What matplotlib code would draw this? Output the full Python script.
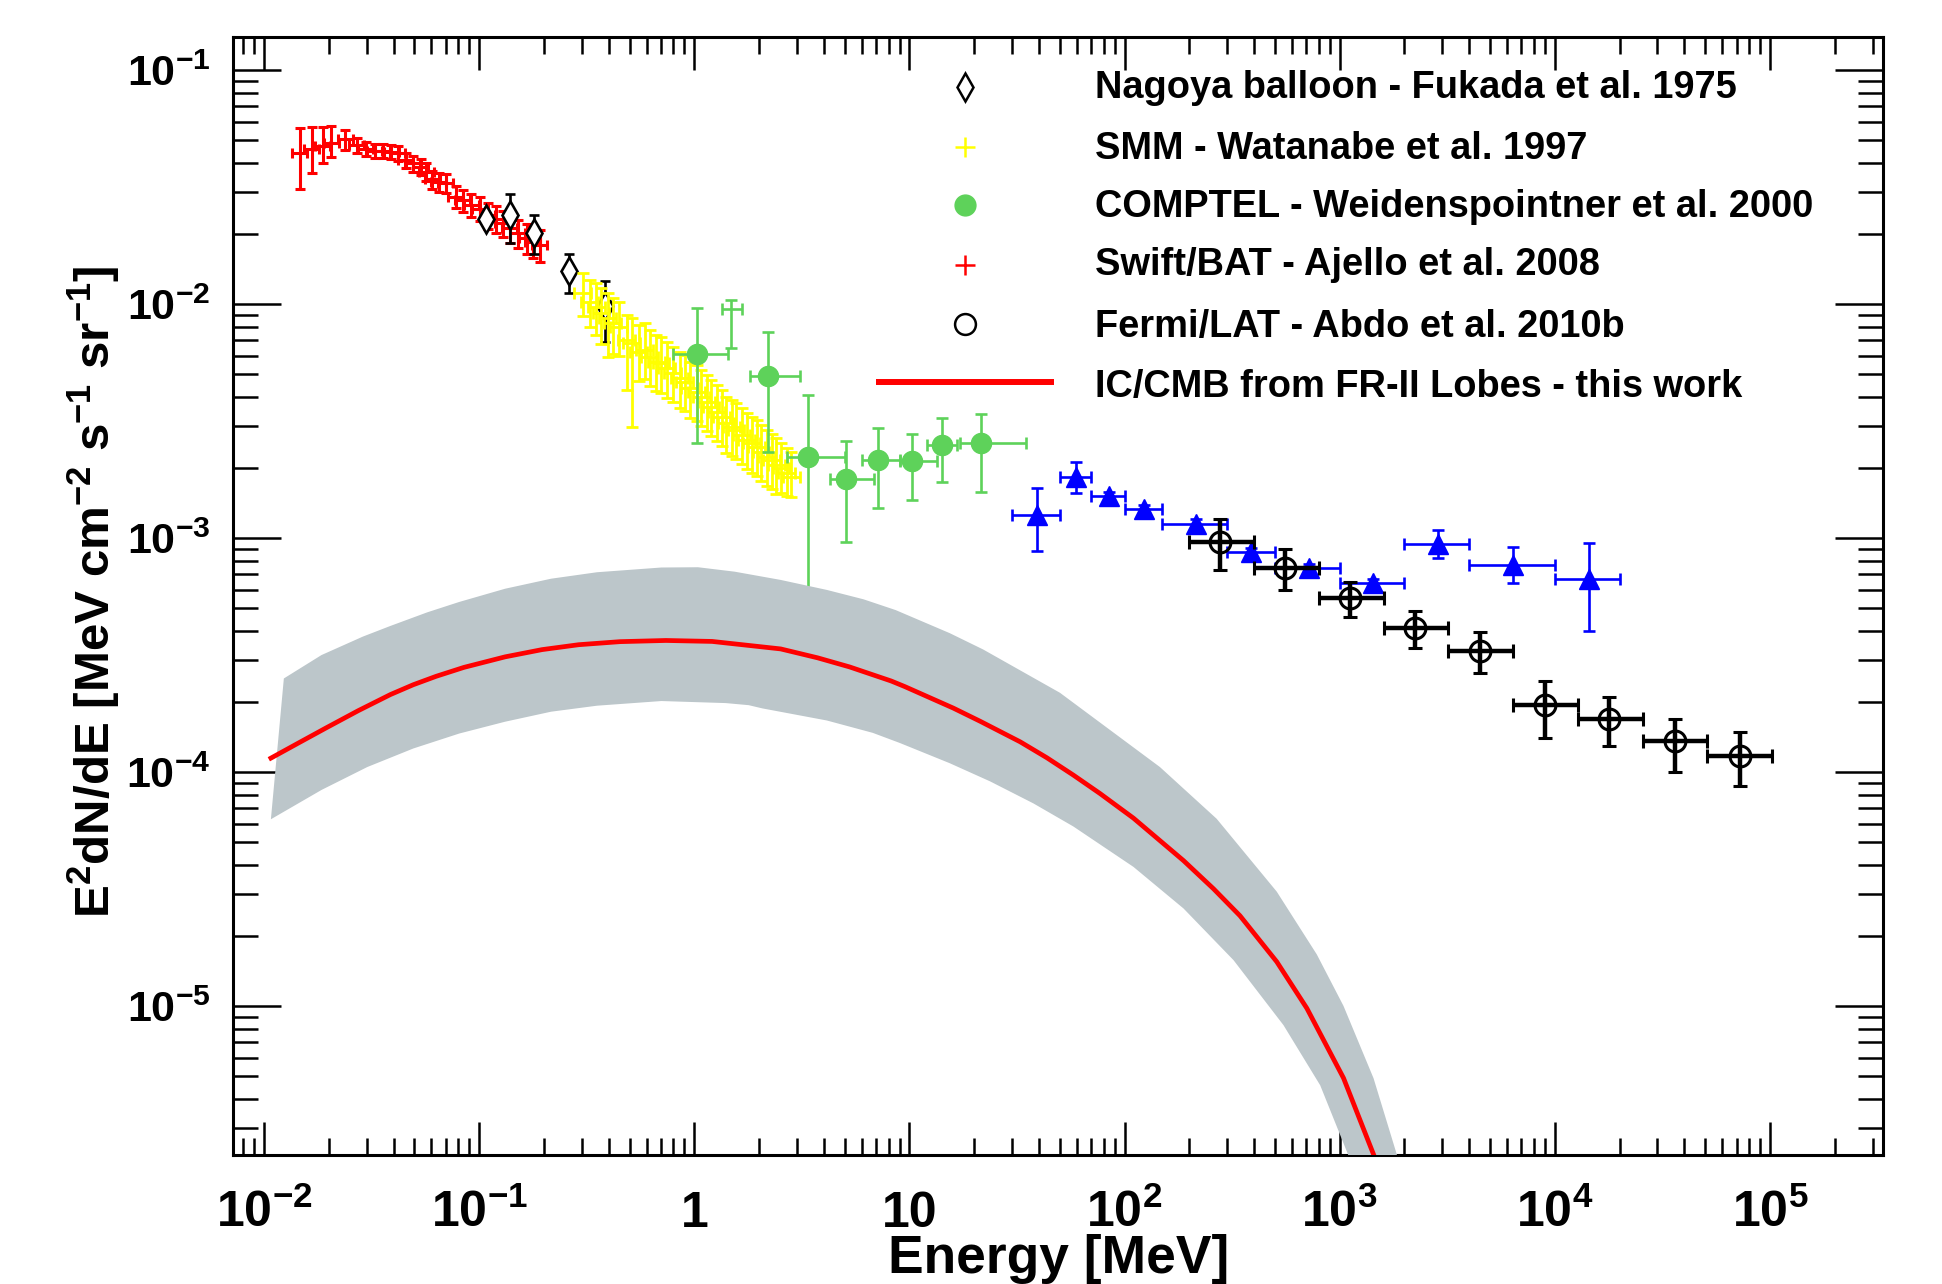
import numpy as np
import matplotlib
matplotlib.use("Agg")
import matplotlib.pyplot as plt
from matplotlib.ticker import LogLocator, NullFormatter, FixedLocator

plt.rcParams['font.family'] = ['Liberation Sans', 'DejaVu Sans']
plt.rcParams['font.weight'] = 'bold'
plt.rcParams['mathtext.fontset'] = 'custom'
plt.rcParams['mathtext.rm'] = 'Liberation Sans:bold'
plt.rcParams['mathtext.bf'] = 'Liberation Sans:bold'
plt.rcParams['mathtext.it'] = 'Liberation Sans:bold'
plt.rcParams['mathtext.sf'] = 'Liberation Sans:bold'
plt.rcParams['mathtext.default'] = 'rm'

# ---------------- data ----------------
# Swift/BAT (Ajello et al. 2008)
swift_E = [0.01473, 0.01667, 0.01875, 0.02055, 0.02388, 0.0270, 0.0297, 0.0327, 0.0357, 0.0391,
           0.0419, 0.0458, 0.0492, 0.0538, 0.0568, 0.0606, 0.0650, 0.0703, 0.0778, 0.0841,
           0.0920, 0.1005, 0.110, 0.120, 0.129, 0.139, 0.151, 0.166, 0.178, 0.191]
swift_F = [0.0441, 0.0458, 0.0475, 0.0489, 0.0505, 0.0478, 0.0462, 0.0452, 0.0452, 0.0448,
           0.0441, 0.0412, 0.0399, 0.0386, 0.0368, 0.0341, 0.0333, 0.0328, 0.0288, 0.0278,
           0.0265, 0.0256, 0.0240, 0.0232, 0.0221, 0.0211, 0.0201, 0.0191, 0.0185, 0.0179]
swift_F_hi = [0.0564, 0.0573, 0.0573, 0.0576, 0.0554, 0.0512, 0.0495, 0.0484, 0.0484, 0.0480,
              0.0472, 0.0443, 0.0430, 0.0417, 0.0399, 0.0372, 0.0364, 0.0359, 0.0318, 0.0308,
              0.0295, 0.0286, 0.0270, 0.0262, 0.0249, 0.0239, 0.0229, 0.0219, 0.0213, 0.0207]
swift_F_lo = [0.0309, 0.0364, 0.0399, 0.0426, 0.0455, 0.0444, 0.0429, 0.0420, 0.0420, 0.0416,
              0.0410, 0.0381, 0.0368, 0.0355, 0.0337, 0.0310, 0.0302, 0.0297, 0.0258, 0.0248,
              0.0235, 0.0226, 0.0210, 0.0202, 0.0193, 0.0183, 0.0173, 0.0163, 0.0157, 0.0151]
swift_dE_rel = 0.08

# Nagoya balloon (Fukada et al. 1975)
nagoya_E = [0.108, 0.139, 0.180, 0.262, 0.385]
nagoya_F = [2.32e-2, 2.40e-2, 2.02e-2, 1.39e-2, 9.80e-3]
nagoya_F_hi = [2.45e-2, 2.95e-2, 2.40e-2, 1.64e-2, 1.26e-2]
nagoya_F_lo = [2.20e-2, 1.82e-2, 1.64e-2, 1.12e-2, 6.90e-3]

# SMM (Watanabe et al. 1997)
smm_E = [0.304, 0.327, 0.351, 0.370, 0.397, 0.419, 0.447, 0.484, 0.511, 0.554,
         0.589, 0.621, 0.667, 0.703, 0.747, 0.796, 0.857, 0.904, 0.953, 1.024,
         1.080, 1.14, 1.20, 1.27, 1.34, 1.41, 1.49, 1.57, 1.66, 1.75,
         1.85, 1.95, 2.05, 2.17, 2.29, 2.41, 2.54, 2.69, 2.83]
smm_F = [0.01112, 0.01023, 0.00973, 0.00912, 0.00869, 0.00827, 0.00800, 0.00702, 0.00679, 0.00625,
         0.00636, 0.00595, 0.00567, 0.00558, 0.00531, 0.00506, 0.00481, 0.00466, 0.00436, 0.00422,
         0.00402, 0.00382, 0.00364, 0.00347, 0.00330, 0.00309, 0.00299, 0.00290, 0.00276, 0.00262,
         0.00254, 0.00246, 0.00234, 0.00223, 0.00215, 0.00205, 0.00199, 0.00189, 0.00183]
smm_up_rel = [0.22, 0.24, 0.26, 0.28, 0.28, 0.28, 0.28, 0.28, 0.28, 0.30,
              0.30, 0.30, 0.30, 0.30, 0.30, 0.30, 0.30, 0.30, 0.30, 0.30,
              0.30, 0.30, 0.30, 0.30, 0.30, 0.30, 0.30, 0.30, 0.30, 0.30,
              0.30, 0.30, 0.30, 0.30, 0.30, 0.30, 0.28, 0.28, 0.28]
smm_lo_rel = [0.20, 0.22, 0.24, 0.26, 0.32, 0.26, 0.25, 0.39, 0.56, 0.25,
              0.25, 0.25, 0.25, 0.25, 0.25, 0.25, 0.25, 0.25, 0.25, 0.25,
              0.25, 0.25, 0.25, 0.25, 0.25, 0.25, 0.25, 0.25, 0.25, 0.25,
              0.25, 0.25, 0.25, 0.25, 0.25, 0.25, 0.22, 0.20, 0.18]
smm_dE_rel = 0.09

# COMPTEL (Weidenspointner et al. 2000); second point drawn without marker
comptel_E = [1.028, 1.486, 2.20, 3.37, 5.08, 7.13, 10.3, 14.2, 21.6]
comptel_E_lo = [0.800, 1.34, 1.81, 2.71, 4.29, 6.01, 9.02, 12.1, 17.1]
comptel_E_hi = [1.43, 1.66, 3.09, 5.04, 6.81, 9.02, 13.4, 16.7, 34.8]
comptel_F = [6.11e-3, 9.48e-3, 4.94e-3, 2.22e-3, 1.78e-3, 2.15e-3, 2.14e-3, 2.49e-3, 2.55e-3]
comptel_F_hi = [9.64e-3, 1.04e-2, 7.62e-3, 4.08e-3, 2.61e-3, 2.96e-3, 2.78e-3, 3.25e-3, 3.39e-3]
comptel_F_lo = [2.54e-3, 6.47e-3, 2.32e-3, 3.0e-4, 9.60e-4, 1.35e-3, 1.46e-3, 1.73e-3, 1.58e-3]
comptel_has_marker = [True, False, True, True, True, True, True, True, True]

# EGRET-like points (blue triangles)
egret_E = [39.3, 59.4, 84.3, 123.6, 214, 386, 721, 1432, 2877, 6427, 14420]
egret_E_lo = [30, 50, 70, 100, 150, 300, 500, 1000, 2000, 4000, 10000]
egret_E_hi = [50, 70, 100, 150, 300, 500, 1000, 2000, 4000, 10000, 20000]
egret_F = [1.253e-3, 1.82e-3, 1.51e-3, 1.33e-3, 1.15e-3, 8.73e-4, 7.43e-4, 6.44e-4, 9.42e-4, 7.67e-4, 6.67e-4]
egret_F_hi = [1.64e-3, 2.11e-3, 1.57e-3, 1.38e-3, 1.20e-3, 9.1e-4, 7.75e-4, 6.7e-4, 1.08e-3, 9.19e-4, 9.49e-4]
egret_F_lo = [8.79e-4, 1.56e-3, 1.45e-3, 1.28e-3, 1.10e-3, 8.4e-4, 7.1e-4, 6.2e-4, 8.24e-4, 6.40e-4, 4.01e-4]

# Fermi/LAT (Abdo et al. 2010b)
fermi_E = [277, 558, 1113, 2235, 4487, 9020, 17950, 36060, 72950]
fermi_E_lo = [200, 400, 800, 1600, 3200, 6400, 12800, 25600, 51200]
fermi_E_hi = [400, 800, 1600, 3200, 6400, 12800, 25600, 51200, 102400]
fermi_F = [9.64e-4, 7.43e-4, 5.53e-4, 4.11e-4, 3.29e-4, 1.93e-4, 1.68e-4, 1.35e-4, 1.17e-4]
fermi_F_hi = [1.205e-3, 8.95e-4, 6.47e-4, 4.87e-4, 3.96e-4, 2.45e-4, 2.10e-4, 1.69e-4, 1.48e-4]
fermi_F_lo = [7.30e-4, 6.00e-4, 4.61e-4, 3.40e-4, 2.64e-4, 1.40e-4, 1.29e-4, 1.00e-4, 8.73e-5]

# IC/CMB model (this work)
model_E = [0.01076, 0.01445, 0.0194, 0.0274, 0.0387, 0.0494, 0.0631, 0.0849, 0.132, 0.196,
           0.290, 0.452, 0.738, 1.21, 2.52, 3.74, 5.27, 8.22, 9.52, 16.0,
           21.3, 32.7, 43.5, 57.8, 76.9, 110, 188, 259, 344, 510,
           704, 1042, 1437]
model_F = [1.146e-4, 1.330e-4, 1.542e-4, 1.828e-4, 2.143e-4, 2.360e-4, 2.564e-4, 2.799e-4, 3.105e-4, 3.334e-4,
           3.499e-4, 3.606e-4, 3.648e-4, 3.614e-4, 3.357e-4, 3.076e-4, 2.812e-4, 2.449e-4, 2.317e-4, 1.875e-4,
           1.648e-4, 1.346e-4, 1.151e-4, 9.70e-5, 8.09e-5, 6.35e-5, 4.18e-5, 3.17e-5, 2.43e-5, 1.545e-5,
           9.77e-6, 4.92e-6, 2.32e-6]
band_up_E = [0.01236, 0.01849, 0.0288, 0.0387, 0.0573, 0.0808, 0.132, 0.216, 0.353, 0.703,
             1.04, 1.54, 2.52, 4.13, 6.12, 8.63, 15.4, 22.0, 50.1, 146,
             268, 510, 783, 1042, 1437, 1876]
band_up_F = [2.51e-4, 3.16e-4, 3.79e-4, 4.21e-4, 4.81e-4, 5.33e-4, 6.07e-4, 6.70e-4, 7.14e-4, 7.48e-4,
             7.50e-4, 7.18e-4, 6.62e-4, 6.00e-4, 5.47e-4, 4.92e-4, 3.92e-4, 3.34e-4, 2.18e-4, 1.05e-4,
             6.31e-5, 3.08e-5, 1.66e-5, 1.00e-5, 4.91e-6, 2.2e-6]
band_lo_E = [0.01076, 0.0185, 0.0302, 0.0494, 0.0808, 0.132, 0.216, 0.353, 0.703, 1.40,
             1.79, 2.07, 4.13, 6.75, 9.03, 15.4, 23.7, 37.7, 57.8, 110,
             188, 321, 548, 812, 1119]
band_lo_F = [6.28e-5, 8.38e-5, 1.05e-4, 1.26e-4, 1.46e-4, 1.64e-4, 1.81e-4, 1.92e-4, 2.01e-4, 1.97e-4,
             1.93e-4, 1.87e-4, 1.66e-4, 1.47e-4, 1.33e-4, 1.09e-4, 9.12e-5, 7.34e-5, 5.85e-5, 3.93e-5,
             2.61e-5, 1.57e-5, 8.28e-6, 4.58e-6, 2.2e-6]

legend_labels = ["Nagoya balloon - Fukada et al. 1975",
                 "SMM - Watanabe et al. 1997",
                 "COMPTEL - Weidenspointner et al. 2000",
                 "Swift/BAT - Ajello et al. 2008",
                 "Fermi/LAT - Abdo et al. 2010b",
                 "IC/CMB from FR-II Lobes - this work"]
x_major = [1e-2, 1e-1, 1, 10, 1e2, 1e3, 1e4, 1e5]
x_labels = [r"$10^{-2}$", r"$10^{-1}$", "1", "10", r"$10^{2}$", r"$10^{3}$", r"$10^{4}$", r"$10^{5}$"]
y_major = [1e-5, 1e-4, 1e-3, 1e-2, 1e-1]
y_labels = [r"$10^{-5}$", r"$10^{-4}$", r"$10^{-3}$", r"$10^{-2}$", r"$10^{-1}$"]

# ---------------- colours ----------------
C_RED = '#FF0000'
C_YEL = '#FFFF00'
C_GRN = '#5ED25A'
C_BLU = '#0000FF'
C_BAND = '#BCC6CA'

fig = plt.figure(figsize=(19.42, 12.84), dpi=100)
ax = fig.add_axes([0.12013, 0.10047, 0.84974, 0.87048])
ax.set_xscale('log')
ax.set_yscale('log')


def eb(x, y, xlo, xhi, ylo, yhi, **kw):
    x = np.asarray(x, float); y = np.asarray(y, float)
    xerr = [x - np.asarray(xlo, float), np.asarray(xhi, float) - x]
    yerr = [y - np.asarray(ylo, float), np.asarray(yhi, float) - y]
    return ax.errorbar(x, y, xerr=xerr, yerr=yerr, **kw)


sE = np.array(swift_E)
eb(sE, swift_F, sE * (1 - swift_dE_rel), sE * (1 + swift_dE_rel), swift_F_lo, swift_F_hi,
   fmt='none', ecolor=C_RED, elinewidth=2.2, capsize=3.8, capthick=2.2, zorder=2)

nE = np.array(nagoya_E)
eb(nE, nagoya_F, nE, nE, nagoya_F_lo, nagoya_F_hi,
   fmt='d', mfc='white', mec='black', mew=1.9, ms=14, ecolor='black',
   elinewidth=1.9, capsize=3.8, capthick=1.9, zorder=3)

mE = np.array(smm_E); mF = np.array(smm_F)
eb(mE, mF, mE * (1 - smm_dE_rel), mE * (1 + smm_dE_rel),
   mF * (1 - np.array(smm_lo_rel)), mF * (1 + np.array(smm_up_rel)),
   fmt='none', ecolor=C_YEL, elinewidth=2.0, capsize=4.2, capthick=2.0, zorder=4)

cm = np.array(comptel_has_marker)
cE = np.array(comptel_E); cF = np.array(comptel_F)
cElo = np.array(comptel_E_lo); cEhi = np.array(comptel_E_hi)
cFlo = np.array(comptel_F_lo); cFhi = np.array(comptel_F_hi)
eb(cE[cm], cF[cm], cElo[cm], cEhi[cm], cFlo[cm], cFhi[cm],
   fmt='o', color=C_GRN, ms=14.5, ecolor=C_GRN, elinewidth=1.9, capsize=4.3, capthick=1.9, zorder=5)
eb(cE[~cm], cF[~cm], cElo[~cm], cEhi[~cm], cFlo[~cm], cFhi[~cm],
   fmt='none', ecolor=C_GRN, elinewidth=1.9, capsize=4.3, capthick=1.9, zorder=5)

eb(egret_E, egret_F, egret_E_lo, egret_E_hi, egret_F_lo, egret_F_hi,
   fmt='^', color=C_BLU, ms=14, ecolor=C_BLU, elinewidth=1.9, capsize=4.3, capthick=1.9, zorder=6)

eb(fermi_E, fermi_F, fermi_E_lo, fermi_E_hi, fermi_F_lo, fermi_F_hi,
   fmt='o', mfc='none', mec='black', mew=2.2, ms=15, ecolor='black',
   elinewidth=3.2, capsize=4.8, capthick=3.8, zorder=7)

bx = np.concatenate([band_up_E, band_lo_E[::-1]])
by = np.concatenate([band_up_F, band_lo_F[::-1]])
ax.fill(bx, by, color=C_BAND, lw=0, zorder=8)
ax.plot(model_E, model_F, color=C_RED, lw=3.4, zorder=9, solid_joinstyle='round')

# ---------------- axes ----------------
ax.set_xlim(10 ** -2.143, 10 ** 5.528)
ax.set_ylim(10 ** -5.637, 10 ** -0.860)
ax.xaxis.set_major_locator(FixedLocator(x_major))
ax.yaxis.set_major_locator(FixedLocator(y_major))
ax.xaxis.set_minor_locator(LogLocator(base=10, subs=np.arange(2, 10), numticks=200))
ax.yaxis.set_minor_locator(LogLocator(base=10, subs=np.arange(2, 10), numticks=200))
ax.xaxis.set_minor_formatter(NullFormatter())
ax.yaxis.set_minor_formatter(NullFormatter())
ax.set_xticklabels(x_labels)
ax.set_yticklabels(y_labels)
ax.tick_params(which='both', direction='in', top=True, right=True, width=1.8, color='black')
ax.tick_params(axis='x', which='major', length=23.8, pad=51.6, labelsize=36)
ax.tick_params(axis='x', which='minor', length=12.2)
ax.tick_params(axis='y', which='major', length=34.6, pad=16.4, labelsize=31)
ax.tick_params(axis='y', which='minor', length=18)
for lab in ax.get_xticklabels():
    lab.set_va('baseline')
for sp in ax.spines.values():
    sp.set_linewidth(2.2)

fig.text(1059 / 1942, 1 - 1273 / 1284, "Energy [MeV]", ha='center', va='baseline',
         fontsize=38.4, fontweight='bold')
fig.text(110 / 1942, 1 - 591.5 / 1284,
         r"E$^{2}$dN/dE [MeV cm$^{-2}$ s$^{-1}$ sr$^{-1}$]",
         rotation=90, rotation_mode='anchor', ha='center', va='baseline',
         fontsize=35.5, fontweight='bold')

# ---------------- legend (manual, ROOT style) ----------------
mk_x = 0.4435
txt_x = 0.5220
mk_y = [0.9559, 0.9021, 0.8500, 0.7963, 0.7435, 0.6919]
txt_y = [0.9454, 0.8909, 0.8396, 0.7874, 0.7317, 0.6780]
T = ax.transAxes
ax.plot([mk_x], [mk_y[0]], 'd', mfc='white', mec='black', mew=1.8, ms=14, transform=T, clip_on=False)
ax.plot([mk_x], [mk_y[1]], '+', color=C_YEL, mew=1.8, ms=15, transform=T, clip_on=False)
ax.plot([mk_x], [mk_y[2]], 'o', color=C_GRN, ms=15, transform=T, clip_on=False)
ax.plot([mk_x], [mk_y[3]], '+', color=C_RED, mew=1.8, ms=15, transform=T, clip_on=False)
ax.plot([mk_x], [mk_y[4]], 'o', mfc='none', mec='black', mew=1.8, ms=15, transform=T, clip_on=False)
ax.plot([0.3895, 0.4976], [mk_y[5], mk_y[5]], '-', color=C_RED, lw=4.3, transform=T, clip_on=False,
        solid_capstyle='butt')
for lab, yy in zip(legend_labels, txt_y):
    ax.text(txt_x, yy, lab, transform=T, ha='left', va='baseline', fontsize=27.4, fontweight='bold')

fig.savefig("out.png", dpi=100)
